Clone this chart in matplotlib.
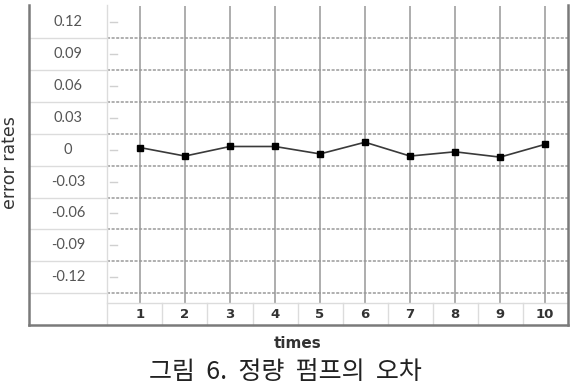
import matplotlib
matplotlib.use("Agg")
import matplotlib.pyplot as plt
from matplotlib.lines import Line2D
from matplotlib.transforms import blended_transform_factory
import numpy as np

# ---- data ----
times = [1, 2, 3, 4, 5, 6, 7, 8, 9, 10]
error_rates = [0.002, -0.006, 0.003, 0.003, -0.004, 0.007, -0.006, -0.002, -0.007, 0.005]
y_ticks = [0.12, 0.09, 0.06, 0.03, 0.0, -0.03, -0.06, -0.09, -0.12]
y_tick_labels = ["0.12", "0.09", "0.06", "0.03", "0", "-0.03", "-0.06", "-0.09", "-0.12"]
x_tick_labels = ["1", "2", "3", "4", "5", "6", "7", "8", "9", "10"]
grid_levels = [0.105, 0.075, 0.045, 0.015, -0.015, -0.045, -0.075, -0.105, -0.135]

W, H = 585, 392
fig = plt.figure(figsize=(W / 100, H / 100), dpi=100)

def fx(px):
    return px / W

def fy(py):
    return 1 - py / H

# layout in pixels
frame_l, frame_r, frame_t, frame_b = 29, 568, 5, 325
plot_l, plot_r, plot_t, plot_b = 107, 568, 5.5, 303
XMIN, XMAX = 0.267, 10.51
YMIN, YMAX = -0.1442, 0.1356

ax = fig.add_axes([fx(plot_l), fy(plot_b), fx(plot_r) - fx(plot_l), fy(plot_t) - fy(plot_b)])
ax.set_xlim(XMIN, XMAX)
ax.set_ylim(YMIN, YMAX)
for s in ax.spines.values():
    s.set_visible(False)
ax.set_xticks([])
ax.set_yticks([])

# vertical gridlines
for t in times:
    ax.axvline(t, color="#a0a0a0", lw=1.2, zorder=1)
# horizontal dashed gridlines
for g in grid_levels:
    ax.axhline(g, color="#9a9a9a", lw=1.1, ls=(0, (2, 1)), zorder=1)
# small tick dashes at label values
for v in y_ticks:
    ax.plot([XMIN + 3 / 45, XMIN + 10 / 45], [v, v], color="#d0d0d0", lw=1, zorder=1)

# data line
ax.plot(times, error_rates, color="#3a3a3a", lw=1.2, marker="s", markersize=4.5,
        markerfacecolor="black", markeredgecolor="black", zorder=3)

# y tick labels in the left column
tr = blended_transform_factory(fig.transFigure, ax.transData)
for v, lab in zip(y_ticks, y_tick_labels):
    ax.text(fx(68), v, lab, transform=tr, ha="center", va="center",
            fontsize=10.5, color="#555555", family="Lato", clip_on=False)

# x tick labels in the bottom row
trx = blended_transform_factory(ax.transData, fig.transFigure)
for t, lab in zip(times, x_tick_labels):
    ax.text(t, fy(314), lab, transform=trx, ha="center", va="center",
            fontsize=9.5, fontweight="bold", color="#333333", family="DejaVu Sans",
            clip_on=False)

# table-like separators
light = "#dcdcdc"
lines = []
lines.append(Line2D([fx(107), fx(107)], [fy(frame_t), fy(frame_b)], color=light, lw=1))
for g in grid_levels:
    ypx = plot_t + (YMAX - g) / (YMAX - YMIN) * (plot_b - plot_t)
    lines.append(Line2D([fx(frame_l), fx(107)], [fy(ypx), fy(ypx)], color=light, lw=1))
lines.append(Line2D([fx(107), fx(plot_r)], [fy(303), fy(303)], color=light, lw=1))
for t in times[:-1]:
    xpx = plot_l + (t + 0.5 - XMIN) / (XMAX - XMIN) * (plot_r - plot_l)
    lines.append(Line2D([fx(xpx), fx(xpx)], [fy(303), fy(frame_b)], color=light, lw=1))
dark = "#7a7a7a"
lines.append(Line2D([fx(frame_l), fx(frame_l)], [fy(frame_t), fy(frame_b)], color=dark, lw=1.8))
lines.append(Line2D([fx(frame_l), fx(frame_r)], [fy(frame_b), fy(frame_b)], color=dark, lw=1.8))
lines.append(Line2D([fx(frame_r), fx(frame_r)], [fy(frame_t), fy(frame_b)], color=dark, lw=1.8))
for ln in lines:
    fig.add_artist(ln)

# axis titles
fig.text(fx(10), fy(163), "error rates", rotation=90, ha="center", va="center",
         fontsize=12.5, color="#333333", family="DejaVu Sans")
fig.text(fx(298), fy(343), "times", ha="center", va="center",
         fontsize=11, fontweight="bold", color="#333333", family="DejaVu Sans")
# caption
fig.text(fx(285), fy(372), "그림  6.  정량  펌프의  오차", ha="center", va="center",
         fontsize=18, color="#222222", family=["Noto Sans CJK KR", "DejaVu Sans"])

fig.savefig("out.png", dpi=100)
